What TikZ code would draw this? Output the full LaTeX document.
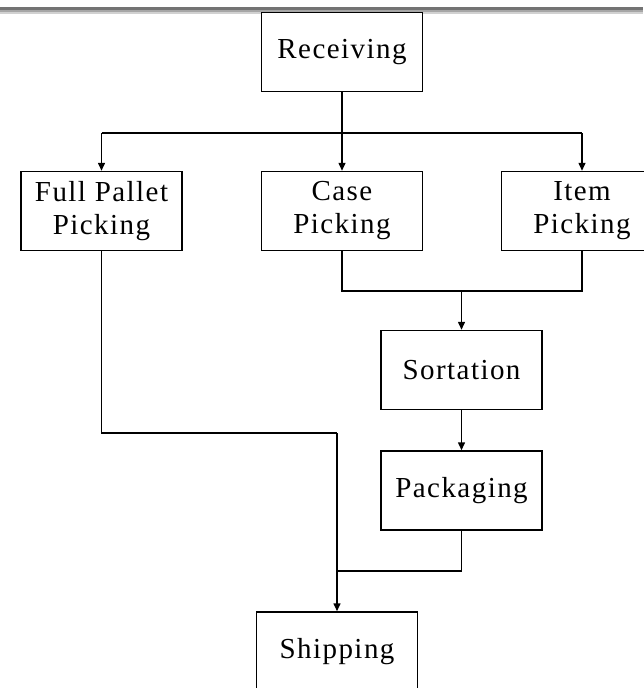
\documentclass[tikz,border=0pt]{standalone}
\usepackage{fontspec}
\setmainfont{Liberation Serif}[LetterSpace=5]
\usetikzlibrary{arrows.meta}

\tikzset{
  stagebox/.style={draw, fill=white, line width=1.5pt, minimum width=161pt,
    minimum height=79pt, align=center, inner sep=0pt,
    font=\fontsize{29}{33}\selectfont},
  flow/.style={line width=1.5pt},
  flowarrow/.style={flow, -{Triangle[width=7pt,length=8pt]}}
}

\begin{document}
\begin{tikzpicture}[x=1pt,y=-1pt]
\useasboundingbox[fill=white] (0,0) rectangle (643,688);

% top edge of the page
\fill[black!55] (0,7) rectangle (643,10);
\fill[black!35] (0,10) rectangle (643,12);
\fill[black!18] (0,12) rectangle (643,14);

% stages
\node[stagebox] (recv) at (342,52) {Receiving};
\node[stagebox] (full) at (101.5,211) {Full Pallet\\Picking};
\node[stagebox] (case) at (342,211) {Case\\Picking};
\node[stagebox] (item) at (582,211) {Item\\Picking};
\node[stagebox] (sort) at (461.5,370) {Sortation};
\node[stagebox] (pack) at (461.5,490.5) {Packaging};
\node[stagebox] (ship) at (337,651.5) {Shipping};

% junctions
\coordinate (split) at (342,133);
\coordinate (mergeA) at (461.5,291);
\coordinate (joinA) at (337,433);
\coordinate (joinB) at (337,571);

% Receiving to the picking stages
\draw[flowarrow] (recv.south) -- (case.north);
\draw[flow] (full.north |- split) -- (item.north |- split);
\draw[flowarrow] (full.north |- split) -- (full.north);
\draw[flowarrow] (item.north |- split) -- (item.north);

% Case and Item picking to Sortation
\draw[flow] (case.south) |- (mergeA);
\draw[flow] (item.south) |- (mergeA);
\draw[flowarrow] (mergeA) -- (sort.north);
\draw[flowarrow] (sort.south) -- (pack.north);

% to Shipping
\draw[flow] (full.south) |- (joinA);
\draw[flow] (pack.south) |- (joinB);
\draw[flowarrow] (joinA) -- (ship.north);

\end{tikzpicture}
\end{document}
